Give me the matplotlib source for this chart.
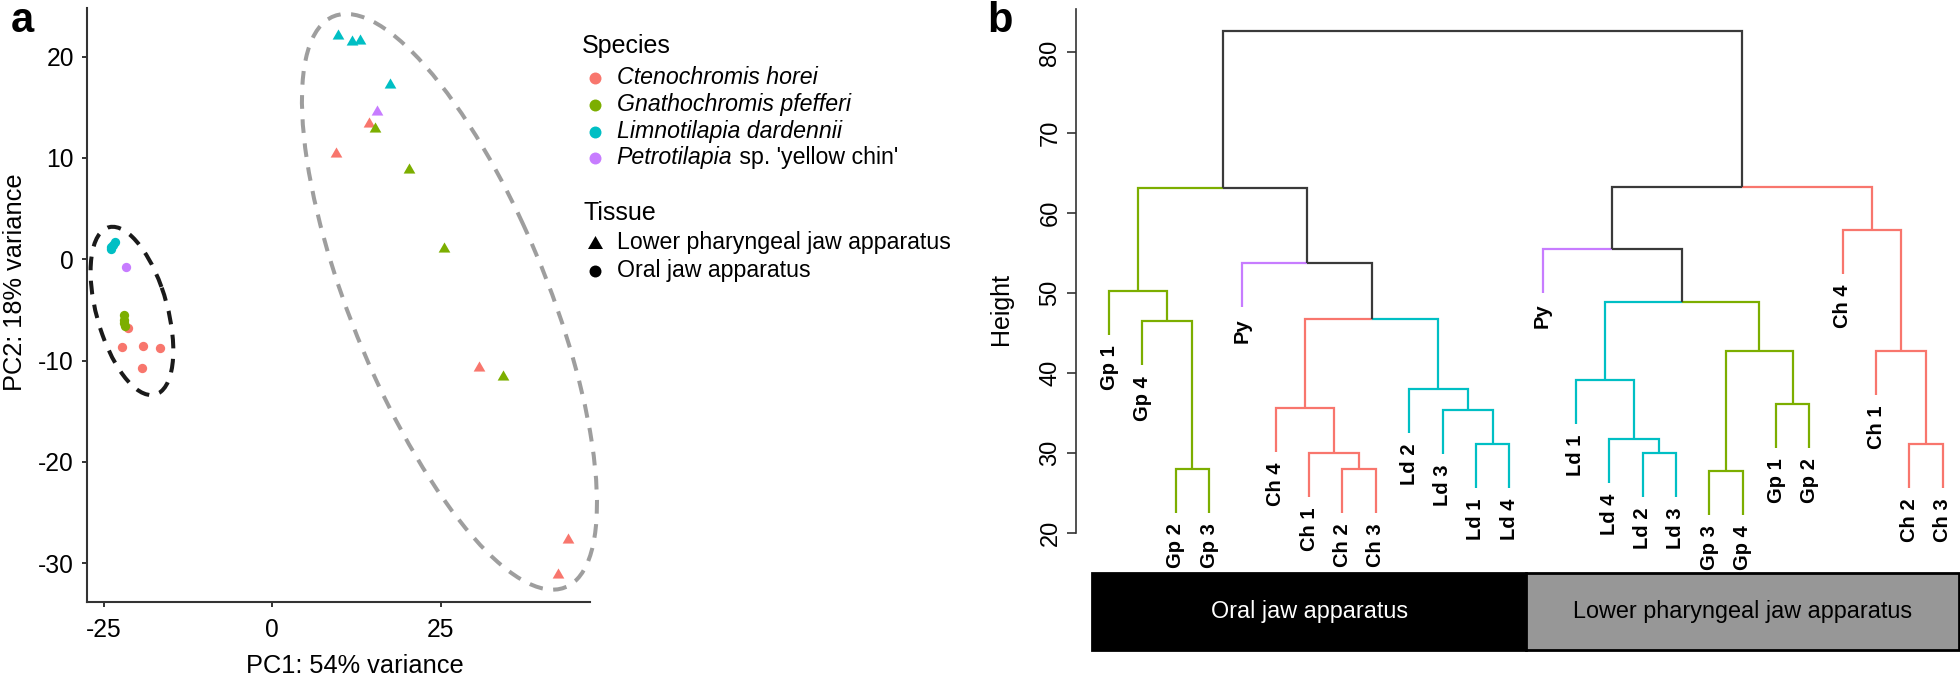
import numpy as np
import matplotlib
matplotlib.use("Agg")
import matplotlib.pyplot as plt
from matplotlib.patches import Ellipse, Rectangle

plt.rcParams['font.family'] = ['Liberation Sans', 'DejaVu Sans']
plt.rcParams['axes.unicode_minus'] = False

# ---------------- Panel a: PCA data ----------------
species_codes = ['Ch', 'Gp', 'Ld', 'Py']
species_names = ['Ctenochromis horei', 'Gnathochromis pfefferi',
                 'Limnotilapia dardennii', "Petrotilapia sp. 'yellow chin'"]
species_colors = ['#F8766D', '#7CAE00', '#00BFC4', '#C77CFF']
tissue_names = ['Lower pharyngeal jaw apparatus', 'Oral jaw apparatus']

# Oral jaw apparatus (circles)
oral_pc1 = [-21.5, -22.3, -19.25, -16.7, -19.3,
            -22.1, -22.05, -21.95, -22.0,
            -24.0, -23.7, -23.4, -23.9,
            -21.8]
oral_pc2 = [-6.8, -8.65, -8.55, -8.8, -10.7,
            -5.5, -6.0, -6.55, -6.25,
            1.2, 1.45, 1.75, 1.0,
            -0.8]
oral_species = ['Ch'] * 5 + ['Gp'] * 4 + ['Ld'] * 4 + ['Py']

# Lower pharyngeal jaw apparatus (triangles)
lpja_pc1 = [14.35, 9.45, 30.75, 43.85, 42.4,
            15.25, 20.35, 25.55, 34.3,
            9.7, 11.8, 13.05, 17.4,
            15.5]
lpja_pc2 = [13.5, 10.55, -10.55, -27.5, -31.0,
            13.1, 9.05, 1.25, -11.4,
            22.2, 21.6, 21.7, 17.4,
            14.7]
lpja_species = ['Ch'] * 5 + ['Gp'] * 4 + ['Ld'] * 4 + ['Py']

# dashed ellipses (oral group, pharyngeal group)
ellipse_center_pc1 = [-20.85, 26.3]
ellipse_center_pc2 = [-5.1, -4.2]
ellipse_width = [18.1, 66.6]
ellipse_height = [9.96, 26.7]
ellipse_angle = [118.4, 124.7]
ellipse_colors = ['#1a1a1a', '#9e9e9e']

pc_xticks = [-25, 0, 25]
pc_yticks = [-30, -20, -10, 0, 10, 20]

# ---------------- Panel b: dendrogram data ----------------
leaf_labels = ['Gp 1', 'Gp 4', 'Gp 2', 'Gp 3', 'Py', 'Ch 4', 'Ch 1', 'Ch 2', 'Ch 3',
               'Ld 2', 'Ld 3', 'Ld 1', 'Ld 4',
               'Py', 'Ld 1', 'Ld 4', 'Ld 2', 'Ld 3', 'Gp 3', 'Gp 4', 'Gp 1', 'Gp 2',
               'Ch 4', 'Ch 1', 'Ch 2', 'Ch 3']
# merges: node ids 0..25 are leaves, merge k gets id 26+k
merge_left = [2, 1, 0, 7, 6, 5, 11, 10, 9, 31, 4, 28,
              16, 15, 14, 18, 20, 41, 40, 13, 24, 23, 22, 45, 37]
merge_right = [3, 26, 27, 8, 29, 30, 12, 32, 33, 34, 35, 36,
               17, 38, 39, 19, 21, 42, 43, 44, 25, 46, 47, 48, 49]
merge_height = [28.03, 46.43, 50.21, 28.03, 30.03, 35.64, 31.07, 35.32, 37.94, 46.68, 53.67, 63.03,
                29.99, 31.77, 39.14, 27.78, 36.14, 42.72, 48.8, 55.46, 31.15, 42.72, 57.83, 63.16,
                82.63]
leaf_hang = 5.5
height_ticks = [20, 30, 40, 50, 60, 70, 80]
bar_groups = ['Oral jaw apparatus', 'Lower pharyngeal jaw apparatus']
bar_group_sizes = [13, 13]
bar_colors = ['#000000', '#979797']
bar_text_colors = ['white', 'black']

# ---------------- figure ----------------
W, H = 1960, 677
fig = plt.figure(figsize=(W / 100, H / 100), dpi=100)


def fx(px):
    return px / W


def fy(py):
    return 1 - py / H


axis_grey = '#333333'
TICK_FS = 17.7
TITLE_FS = 18.3
LEG_FS = 16.7
LEG_TITLE_FS = 18

# ---- Panel a ----
axA = fig.add_axes([fx(86.7), fy(602), fx(590) - fx(86.7), fy(8) - fy(602)])
axA.set_xlim(-27.57, 47.17)
axA.set_ylim(-33.83, 24.8)
for s in ['top', 'right']:
    axA.spines[s].set_visible(False)
for s in ['left', 'bottom']:
    axA.spines[s].set_color(axis_grey)
    axA.spines[s].set_linewidth(1.5)
axA.set_xticks(pc_xticks)
axA.set_yticks(pc_yticks)
axA.tick_params(axis='both', length=3.6, width=1.4, color=axis_grey, labelsize=TICK_FS, labelcolor='black')
axA.tick_params(axis='x', pad=8.0)
axA.tick_params(axis='y', pad=5.5)

for i in range(2):
    e = Ellipse((ellipse_center_pc1[i], ellipse_center_pc2[i]), ellipse_width[i], ellipse_height[i],
                angle=ellipse_angle[i], fill=False, edgecolor=ellipse_colors[i], linewidth=2.9,
                linestyle=(0, (3.4, 2.6)), clip_on=False, zorder=1)
    axA.add_patch(e)

tri_marker = [(0, 1), (-1.1547, -1), (1.1547, -1)]
oral_sp = np.array(oral_species)
lpja_sp = np.array(lpja_species)
o1, o2 = np.array(oral_pc1), np.array(oral_pc2)
l1, l2 = np.array(lpja_pc1), np.array(lpja_pc2)
for code, col in zip(species_codes, species_colors):
    m = oral_sp == code
    axA.scatter(o1[m], o2[m], s=45, color=col, linewidths=0, zorder=3)
    m = lpja_sp == code
    axA.scatter(l1[m], l2[m], s=71, color=col, marker=tri_marker, linewidths=0, zorder=3)

# ---- overlay (pixel coordinates) for free text / legend ----
ov = fig.add_axes([0, 0, 1, 1])
ov.set_xlim(0, W)
ov.set_ylim(H, 0)
ov.axis('off')
ov.patch.set_alpha(0)

ov.text(11, 31.7, 'a', fontsize=30, fontweight='bold', ha='left', va='baseline')
ov.text(987, 31.7, 'b', fontsize=30, fontweight='bold', ha='left', va='baseline')
ov.text(354.7, 673, 'PC1: 54% variance', fontsize=TITLE_FS, ha='center', va='baseline')
ov.text(21.7, 281.8, 'PC2: 18% variance', fontsize=TITLE_FS, ha='center', va='baseline',
        rotation=90, rotation_mode='anchor')

# legend
ov.text(582, 53.3, 'Species', fontsize=LEG_TITLE_FS, ha='left', va='baseline')
renderer = fig.canvas.get_renderer()
for k, (name, col) in enumerate(zip(species_names, species_colors)):
    yk = 78.3 + k * 26.7
    ov.scatter([595], [yk], s=74, color=col, linewidths=0)
    if k < 3:
        ov.text(616.7, yk + 6, name, fontsize=LEG_FS, style='italic', ha='left', va='baseline')
    else:
        genus, rest = name.split(' ', 1)
        t1 = ov.text(616.7, yk + 6, genus, fontsize=LEG_FS, style='italic', ha='left', va='baseline')
        bb = t1.get_window_extent(renderer)
        ov.text(bb.x1 + 1, yk + 6, ' ' + rest, fontsize=LEG_FS, ha='left', va='baseline')

ov.text(583, 220, 'Tissue', fontsize=LEG_TITLE_FS, ha='left', va='baseline')
ov.scatter([595], [241.7], s=117, color='black', marker=tri_marker, linewidths=0)
ov.text(616.7, 249.3, tissue_names[0], fontsize=LEG_FS, ha='left', va='baseline')
ov.scatter([595], [270.7], s=74, color='black', linewidths=0)
ov.text(616.7, 276.7, tissue_names[1], fontsize=LEG_FS, ha='left', va='baseline')

# ---- Panel b: dendrogram ----
axB = fig.add_axes([fx(1076), fy(560), fx(1960) - fx(1076), fy(0) - fy(560)])
xlim_b = (1 + (1076 - 1109) / 33.35, 1 + (1960 - 1109) / 33.35)
axB.set_xlim(*xlim_b)
axB.set_ylim(20 - 27 / 8.01, 20 + 533 / 8.01)
for s in ['top', 'right', 'bottom']:
    axB.spines[s].set_visible(False)
axB.spines['left'].set_bounds(20, 85.4)
axB.spines['left'].set_color(axis_grey)
axB.spines['left'].set_linewidth(1.2)
axB.set_xticks([])
axB.set_yticks(height_ticks)
axB.tick_params(axis='y', length=6.3, width=1.2, color=axis_grey, labelsize=17, pad=4.2)
for lab in axB.get_yticklabels():
    lab.set_rotation(90)
    lab.set_va('center')
axB.patch.set_alpha(0)

n_leaf = len(leaf_labels)
node_x = [float(i + 1) for i in range(n_leaf)]
node_h = [None] * n_leaf
node_sp = [{lab.split()[0]} for lab in leaf_labels]
for a, b, h in zip(merge_left, merge_right, merge_height):
    node_x.append((node_x[a] + node_x[b]) / 2)
    node_h.append(h)
    node_sp.append(node_sp[a] | node_sp[b])

col_map = dict(zip(species_codes, species_colors))
dark_link = '#3a3a3a'


def node_color(i):
    sp = node_sp[i]
    return col_map[next(iter(sp))] if len(sp) == 1 else dark_link


for k, (a, b, h) in enumerate(zip(merge_left, merge_right, merge_height)):
    m = n_leaf + k
    for c in (a, b):
        bottom = node_h[c] if c >= n_leaf else h - leaf_hang
        axB.plot([node_x[m], node_x[c], node_x[c]], [h, h, bottom], color=node_color(c),
                 linewidth=1.6, solid_joinstyle='miter', solid_capstyle='butt', clip_on=False)
        if c < n_leaf:
            axB.annotate(leaf_labels[c], xy=(node_x[c], bottom), xytext=(0, -7.5),
                         textcoords='offset points', rotation=90, ha='center', va='top',
                         fontsize=14.5, fontweight='bold', annotation_clip=False)

ov.text(1008, 308.6, 'Height', fontsize=18, ha='center', va='baseline',
        rotation=90, rotation_mode='anchor')

# ---- colored bar ----
axC = fig.add_axes([fx(1076), fy(650.3), fx(1960) - fx(1076), fy(573) - fy(650.3)])
axC.set_xlim(*xlim_b)
axC.set_ylim(0, 1)
axC.axis('off')
start = 0.5
for name, size, col, tcol in zip(bar_groups, bar_group_sizes, bar_colors, bar_text_colors):
    axC.add_patch(Rectangle((start, 0), size, 1, facecolor=col, edgecolor='black',
                            linewidth=2.0, clip_on=False))
    axC.text(start + size / 2, 0.5, name, color=tcol, fontsize=16.8, ha='center', va='center')
    start += size

fig.savefig('out.png', dpi=100)
